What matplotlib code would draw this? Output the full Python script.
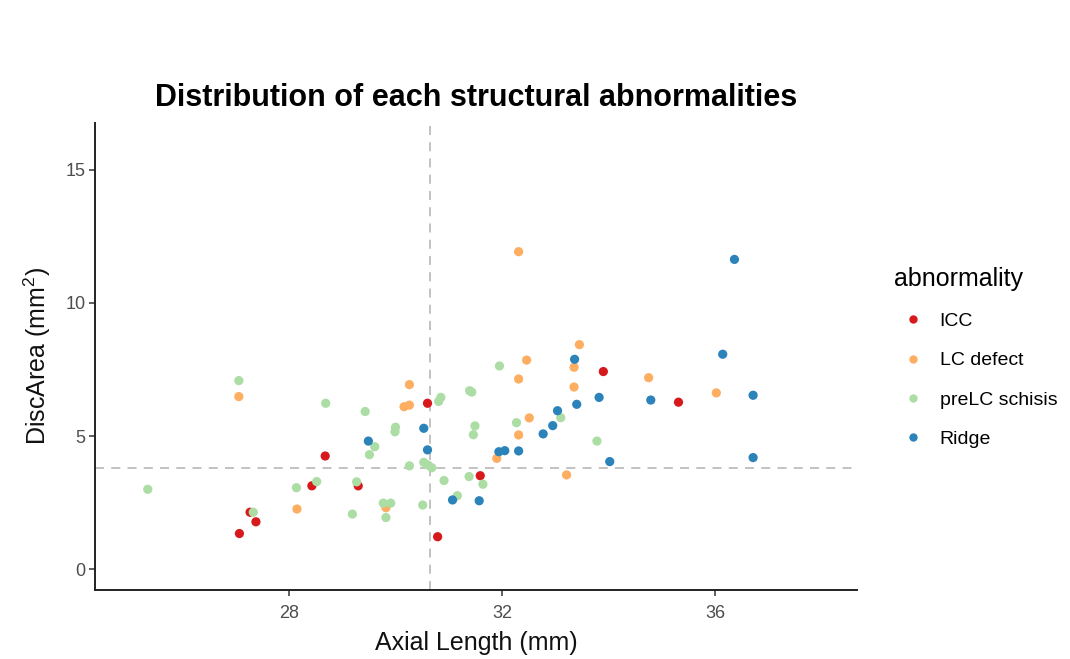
import matplotlib
matplotlib.use("Agg")
import matplotlib.pyplot as plt
from matplotlib.lines import Line2D

plt.rcParams['font.family'] = ['Liberation Sans', 'DejaVu Sans']
plt.rcParams['mathtext.fontset'] = 'custom'
plt.rcParams['mathtext.rm'] = 'Liberation Sans'
plt.rcParams['mathtext.it'] = 'Liberation Sans:italic'
plt.rcParams['mathtext.bf'] = 'Liberation Sans:bold'

categories = ["ICC", "LC defect", "preLC schisis", "Ridge"]
colors = ["#D7191C", "#FDAE61", "#ABDDA4", "#2B83BA"]

icc_x = [27.07, 27.38, 27.27, 28.43, 28.68, 29.30, 30.60, 30.79, 31.59, 33.90, 35.31]
icc_y = [1.34, 1.78, 2.14, 3.13, 4.25, 3.13, 6.23, 1.22, 3.51, 7.42, 6.27]

lc_x = [27.06, 28.15, 29.82, 30.16, 30.26, 30.26, 31.90, 32.31, 32.31, 32.31,
        32.46, 32.51, 33.21, 33.35, 33.35, 33.45, 34.75, 36.02]
lc_y = [6.48, 2.26, 2.31, 6.10, 6.16, 6.93, 4.16, 5.04, 7.14, 11.92,
        7.85, 5.68, 3.54, 6.84, 7.58, 8.43, 7.19, 6.62]

pre_x = [25.35, 27.06, 27.33, 28.14, 28.52, 28.69, 29.19, 29.27, 29.43, 29.51,
         29.61, 29.77, 29.82, 29.91, 29.99, 30.00, 30.26, 30.51, 30.53, 30.61,
         30.68, 30.81, 30.85, 30.91, 31.16, 31.38, 31.39, 31.43, 31.46, 31.49,
         31.64, 31.95, 32.27, 33.10, 33.78]
pre_y = [3.00, 7.08, 2.14, 3.06, 3.29, 6.23, 2.07, 3.28, 5.92, 4.30,
         4.60, 2.48, 1.94, 2.48, 5.16, 5.33, 3.88, 2.41, 4.01, 3.91,
         3.81, 6.30, 6.45, 3.33, 2.76, 3.48, 6.70, 6.65, 5.05, 5.38,
         3.19, 7.63, 5.50, 5.69, 4.81]

ridge_x = [29.49, 30.53, 30.60, 31.07, 31.57, 31.94, 32.05, 32.31, 32.77, 32.95,
           33.04, 33.36, 33.40, 33.82, 34.02, 34.79, 36.14, 36.36, 36.71, 36.71]
ridge_y = [4.81, 5.29, 4.48, 2.60, 2.57, 4.41, 4.45, 4.44, 5.08, 5.39,
           5.95, 7.88, 6.19, 6.45, 4.04, 6.35, 8.07, 11.63, 6.53, 4.19]

ref_axial = 30.65
ref_disc = 3.8

x_ticks = [28, 32, 36]
y_ticks = [0, 5, 10, 15]

series = [(icc_x, icc_y), (lc_x, lc_y), (pre_x, pre_y), (ridge_x, ridge_y)]

fig = plt.figure(figsize=(10.7, 6.59), dpi=100)
ax = fig.add_axes([95 / 1070, 1 - 590 / 659, (857 - 95) / 1070, (590 - 123) / 659])

ax.axhline(ref_disc, color="#bdbdbd", lw=1.3, ls=(0, (5, 4)), zorder=1)
ax.axvline(ref_axial, color="#bdbdbd", lw=1.3, ls=(0, (5, 4)), zorder=1)

for (xs, ys), c in zip(series, colors):
    ax.scatter(xs, ys, s=44, color=c, edgecolors="none", zorder=3)

ax.set_xlim(24.36, 38.66)
ax.set_ylim(-0.78, 16.75)
ax.set_xticks(x_ticks)
ax.set_yticks(y_ticks)
ax.tick_params(axis="both", colors="#333333", labelcolor="#4d4d4d",
               labelsize=13, length=4, width=1.1)
ax.tick_params(axis="x", pad=7)
ax.tick_params(axis="y", pad=3)
for sp in ["top", "right"]:
    ax.spines[sp].set_visible(False)
for sp in ["left", "bottom"]:
    ax.spines[sp].set_color("#222222")
    ax.spines[sp].set_linewidth(1.4)

ax.set_xlabel("Axial Length (mm)", fontsize=18, color="#111111", labelpad=6)
ax.set_ylabel("DiscArea (mm$^2$)", fontsize=18, color="#111111", labelpad=9)
ax.set_title("Distribution of each structural abnormalities", fontsize=22,
             fontweight="bold", pad=12)

handles = [Line2D([0], [0], marker="o", ls="none", markersize=6,
                  markerfacecolor=c, markeredgecolor="none") for c in colors]
leg = fig.legend(handles, categories, title="abnormality",
                 loc="upper left", bbox_to_anchor=(0.821, 0.619),
                 frameon=False, fontsize=14, title_fontsize=18,
                 labelspacing=1.12, handletextpad=0.35, alignment="left",
                 borderpad=0.3)

fig.savefig("out.png", dpi=100)
